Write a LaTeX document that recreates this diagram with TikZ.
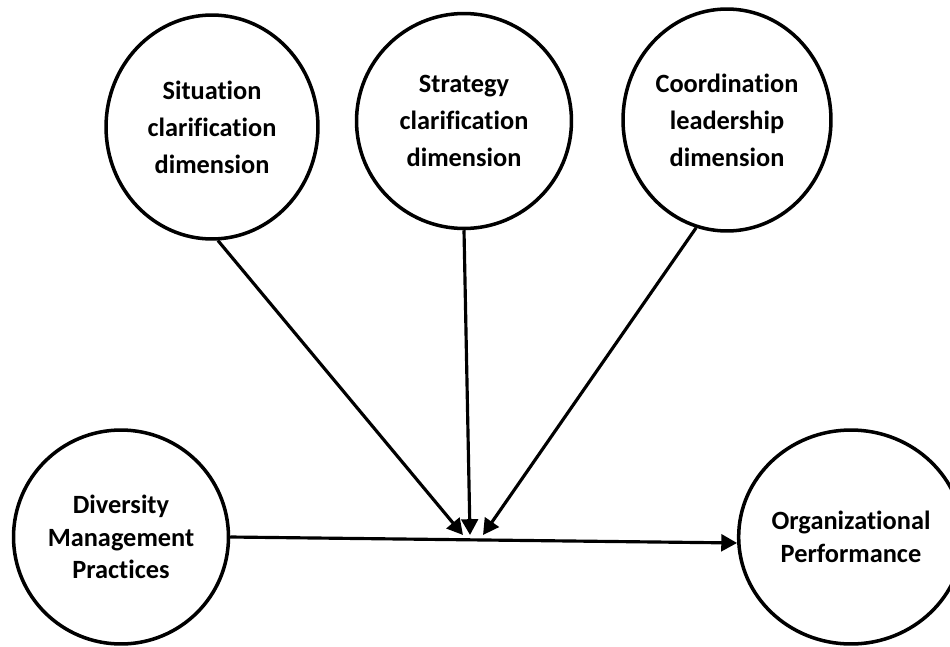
\documentclass[tikz,border=0pt]{standalone}
\usepackage{fontspec}
\setmainfont{Carlito}[Ligatures=NoCommon]
\usetikzlibrary{shapes.geometric,arrows.meta}

\begin{document}
\begin{tikzpicture}[x=0.02cm,y=-0.02cm,
  dimnode/.style={ellipse,draw=linecolor,fill=fillcolor,line width=2pt,inner sep=0pt,
    align=center,text=linecolor,font=\fontsize{15}{21}\selectfont\bfseries},
  mainnode/.style={dimnode,font=\fontsize{15}{18.5}\selectfont\bfseries},
  link/.style={draw=linecolor,line width=1.8pt,-{Triangle[length=9pt,width=9.5pt]}}]
\definecolor{linecolor}{RGB}{0,0,0}
\definecolor{fillcolor}{RGB}{255,255,255}
\useasboundingbox (0,0) rectangle (950,646);
% the three leadership dimensions
\node [dimnode,minimum width=4.24cm,minimum height=4.48cm] (sit) at (212,127) {Situation\\clarification\\dimension};
\node [dimnode,minimum width=4.30cm,minimum height=4.30cm] (strat) at (464,121) {Strategy\\clarification\\dimension};
\node [dimnode,minimum width=4.16cm,minimum height=4.44cm] (coord) at (727,120) {Coordination\\leadership\\dimension};
% independent and dependent variable
\node [mainnode,minimum width=4.30cm,minimum height=4.28cm] (div) at (121,537) {Diversity\\Management\\Practices};
\node [mainnode,minimum width=4.26cm,minimum height=4.28cm] (org) at (851,537) {Organizational\\Performance};
% where the moderators meet the main path
\coordinate (tipa) at (463,535);
\coordinate (tipb) at (470,535);
\coordinate (tipc) at (483,535);
\draw [link] (div.east) -- (org.183);
\draw [link] (sit.-87) -- (tipa);
\draw [link] (strat.south) -- (tipb);
\draw [link] (coord.-106) -- (tipc);
\end{tikzpicture}
\end{document}
